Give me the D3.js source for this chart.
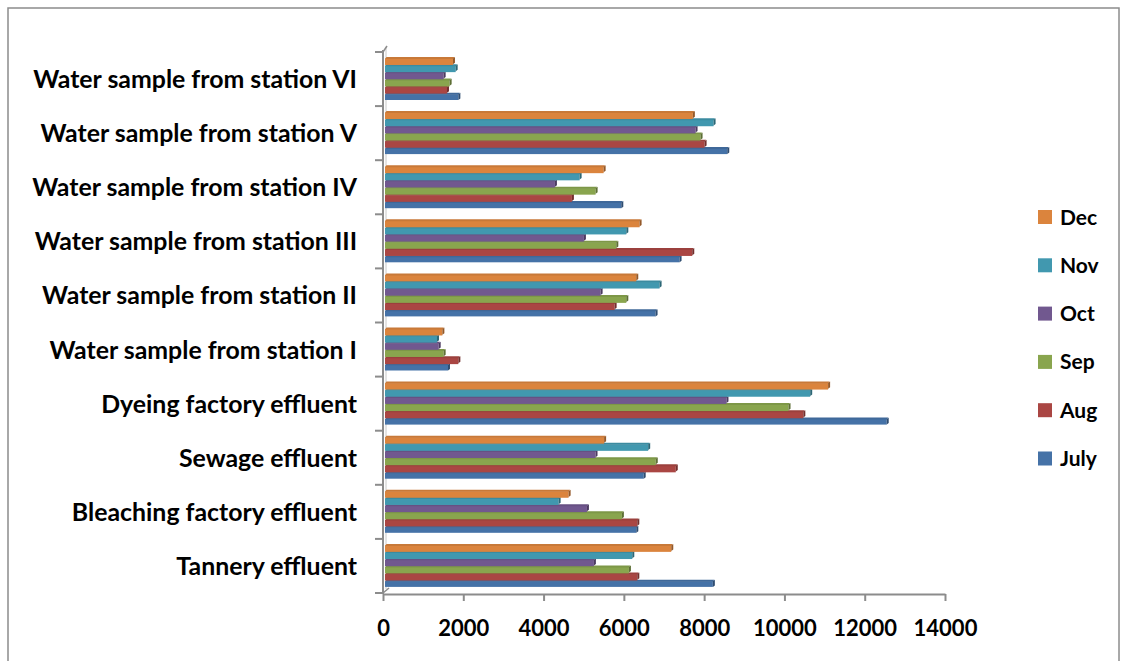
<!DOCTYPE html>
<html>
<head>
<meta charset="utf-8">
<script src="https://cdn.jsdelivr.net/npm/d3@7"></script>
<style>
  body { margin: 0; background: #fff; }
  svg { display: block; }
  text { font-family: Lato, "Open Sans", sans-serif; font-weight: bold; fill: #000; }
</style>
</head>
<body>
<svg width="1121" height="661"></svg>
<script>
var categories = ["Tannery effluent", "Bleaching factory effluent", "Sewage effluent",
  "Dyeing factory effluent", "Water sample from station I", "Water sample from station II",
  "Water sample from station III", "Water sample from station IV",
  "Water sample from station V", "Water sample from station VI"];
var series = ["July", "Aug", "Sep", "Oct", "Nov", "Dec"];

// values per category, same order as categories
var july = [8217, 6310, 6494, 12548, 1619, 6790, 7388, 5936, 8576, 1877];
var aug  = [6335, 6335, 7293, 10471, 1877, 5770, 7704, 4706, 8011, 1594];
var sep  = [6126, 5951, 6795, 10102, 1511, 6061, 5812, 5296, 7911, 1660];
var oct  = [5254, 5080, 5294, 8556, 1387, 5421, 5005, 4283, 7786, 1511];
var nov  = [6210, 4375, 6606, 10642, 1345, 6890, 6061, 4898, 8235, 1810];
var dec  = [7181, 4624, 5508, 11088, 1479, 6309, 6392, 5496, 7719, 1743];
var xTicks = [0, 2000, 4000, 6000, 8000, 10000, 12000, 14000];

var seriesValues = { July: july, Aug: aug, Sep: sep, Oct: oct, Nov: nov, Dec: dec };
var colors = { July: "#4572A7", Aug: "#AA4643", Sep: "#89A54E", Oct: "#71588F", Nov: "#4198AF", Dec: "#DB843D" };

var svg = d3.select("svg");

// chart frame
svg.append("rect")
    .attr("x", 8).attr("y", 8).attr("width", 1111).attr("height", 670)
    .attr("fill", "none").attr("stroke", "#8c8c8c").attr("stroke-width", 1.5);

var x = d3.scaleLinear().domain([0, 14000]).range([383, 945]);

var y = d3.scaleBand()
    .domain(categories.slice().reverse())
    .range([52, 593]);

var yInner = d3.scaleBand()
    .domain(series.slice().reverse())
    .range([5, 48]);

// back wall line
svg.append("line")
    .attr("x1", 386).attr("x2", 386).attr("y1", 47).attr("y2", 589)
    .attr("stroke", "#c8c8c8").attr("stroke-width", 1);

// bars, drawn with a small 3d look
var dz = 1.5;
var rows = [];
categories.forEach(function(c, i) {
  series.forEach(function(s) {
    rows.push({ cat: c, ser: s, value: seriesValues[s][i] });
  });
});
// draw bottom bars first so upper ones overlap their top face
rows.sort(function(a, b) {
  return (y(b.cat) + yInner(b.ser)) - (y(a.cat) + yInner(a.ser));
});

var h = yInner.bandwidth();
var bars = svg.append("g").selectAll("g")
  .data(rows)
  .enter().append("g");

bars.append("rect")
    .attr("x", x(0) + 2)
    .attr("y", function(d) { return y(d.cat) + yInner(d.ser) + dz; })
    .attr("width", function(d) { return x(d.value) - x(0) - 2; })
    .attr("height", function(d) { return d.ser === "July" ? h - dz : h - dz + 0.8; })
    .attr("fill", function(d) { return colors[d.ser]; });

bars.append("polygon")
    .attr("points", function(d) {
      var y0 = y(d.cat) + yInner(d.ser), x0 = x(0) + 2, x1 = x(d.value);
      return [[x0, y0 + dz + 0.5], [x0 + dz, y0], [x1 + dz, y0], [x1, y0 + dz + 0.5]].join(" ");
    })
    .attr("fill", function(d) { return d3.color(colors[d.ser]).darker(0.25); });

bars.append("polygon")
    .attr("points", function(d) {
      var y0 = y(d.cat) + yInner(d.ser), x1 = x(d.value);
      return [[x1, y0 + dz], [x1 + dz + 0.5, y0], [x1 + dz + 0.5, y0 + h - dz], [x1, y0 + h]].join(" ");
    })
    .attr("fill", function(d) { return d3.color(colors[d.ser]).darker(1.1); });

// vertical axis
svg.append("line")
    .attr("x1", 383).attr("x2", 383).attr("y1", 50).attr("y2", 594)
    .attr("stroke", "#8c8c8c").attr("stroke-width", 2);
svg.append("line")
    .attr("x1", 383).attr("x2", 387).attr("y1", 52).attr("y2", 46)
    .attr("stroke", "#8c8c8c").attr("stroke-width", 1.5);

var edges = y.domain().map(function(c) { return y(c); }).concat([593]);
svg.append("g").selectAll("line")
  .data(edges)
  .enter().append("line")
    .attr("x1", 375).attr("x2", 383)
    .attr("y1", function(d) { return d; }).attr("y2", function(d) { return d; })
    .attr("stroke", "#8c8c8c").attr("stroke-width", 2);

var labels = svg.append("g").selectAll("text")
  .data(categories)
  .enter().append("text")
    .attr("x", 357)
    .attr("y", function(d) { return y(d) + y.bandwidth() / 2; })
    .attr("dy", "0.36em")
    .attr("text-anchor", "end")
    .style("font-size", "21px")
    .text(function(d) { return d; });

// the longest label spans about 325px in the original
var widest = d3.max(labels.nodes(), function(n) { return n.getComputedTextLength(); });
labels.style("font-size", (21 * 325 / widest) + "px");

// horizontal axis
var xAxis = svg.append("g")
    .attr("transform", "translate(0,594)")
    .call(d3.axisBottom(x).tickValues(xTicks).tickSize(7).tickSizeOuter(0).tickFormat(d3.format("d")));
xAxis.select(".domain").attr("stroke", "#8c8c8c").attr("stroke-width", 2);
xAxis.selectAll(".tick line").attr("stroke", "#8c8c8c").attr("stroke-width", 2);
xAxis.selectAll(".tick text")
    .attr("y", 42).attr("dy", 0)
    .style("font-family", "Lato, sans-serif")
    .style("font-weight", "bold")
    .style("font-size", "22px")
    .attr("fill", "#000");
svg.append("line")
    .attr("x1", 383).attr("x2", 389).attr("y1", 593).attr("y2", 588)
    .attr("stroke", "#8c8c8c").attr("stroke-width", 1.5);

// legend
var legend = svg.append("g").selectAll("g")
  .data(series.slice().reverse())
  .enter().append("g")
    .attr("transform", function(d, i) { return "translate(1038," + (217 + i * 48.3) + ")"; });

legend.append("rect")
    .attr("x", 0).attr("y", -7).attr("width", 14).attr("height", 14)
    .attr("fill", function(d) { return colors[d]; });

legend.append("text")
    .attr("x", 22).attr("dy", "0.36em")
    .style("font-size", "21px")
    .text(function(d) { return d; });
</script>
</body>
</html>
